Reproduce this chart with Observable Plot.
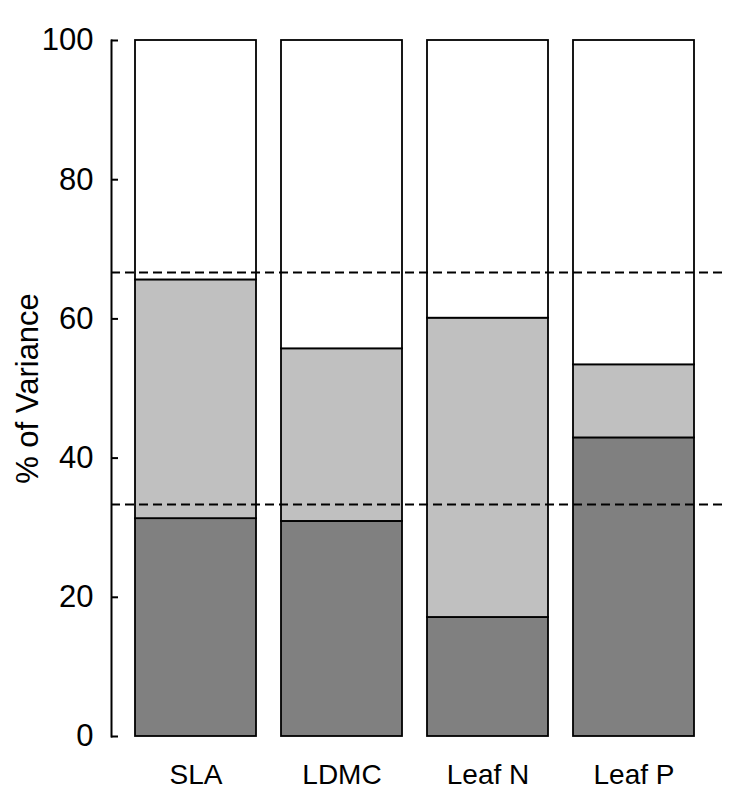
<!DOCTYPE html>
<html>
<head>
<meta charset="utf-8">
<script src="https://cdn.jsdelivr.net/npm/d3@7"></script>
<script src="https://cdn.jsdelivr.net/npm/@observablehq/plot@0.6"></script>
<style>
  html, body { margin: 0; padding: 0; background: #fff; }
  svg { font-family: "Liberation Sans", Arial, sans-serif; }
</style>
</head>
<body>
<div id="chart"></div>
<script>
const traits = ["SLA", "LDMC", "Leaf N", "Leaf P"];
const lowerPart = [31.3, 30.9, 17.1, 42.9];
const middlePart = [34.3, 24.8, 43.0, 10.5];
const upperPart = [34.4, 44.3, 39.9, 46.6];
const partNames = ["lower", "middle", "upper"];
const partColors = ["#808080", "#c0c0c0", "#ffffff"];
const yTicks = [0, 20, 40, 60, 80, 100];
const thresholds = [33.33, 66.67];

const rows = [];
traits.forEach((t, i) => {
  rows.push({trait: t, part: "lower", value: lowerPart[i]});
  rows.push({trait: t, part: "middle", value: middlePart[i]});
  rows.push({trait: t, part: "upper", value: upperPart[i]});
});

const chart = Plot.plot({
  width: 733,
  height: 800,
  marginLeft: 111,
  marginRight: 11,
  marginTop: 40,
  marginBottom: 64,
  style: {fontFamily: '"Liberation Sans", Arial, sans-serif', background: "#fff"},
  x: {domain: traits, padding: 0.17, align: 0.47},
  y: {domain: [0, 100]},
  color: {domain: partNames, range: partColors},
  marks: [
    Plot.barY(rows, {x: "trait", y: "value", fill: "part", stroke: "black", strokeWidth: 1.8}),
    Plot.ruleY(thresholds, {stroke: "black", strokeWidth: 1.8, strokeDasharray: "9,5"}),
    Plot.frame({anchor: "left", stroke: "black", strokeWidth: 2}),
    Plot.axisY(yTicks, {
      ticks: yTicks, tickSize: -7, tickPadding: 25, strokeWidth: 2,
      fontSize: 31, fill: "black", color: "black",
      label: "% of Variance", labelAnchor: "center", labelArrow: "none", labelOffset: 96
    }),
    Plot.axisX({tickSize: 0, tickPadding: 28, fontSize: 28, fill: "black", label: null})
  ]
});
document.getElementById("chart").appendChild(chart);
</script>
</body>
</html>
